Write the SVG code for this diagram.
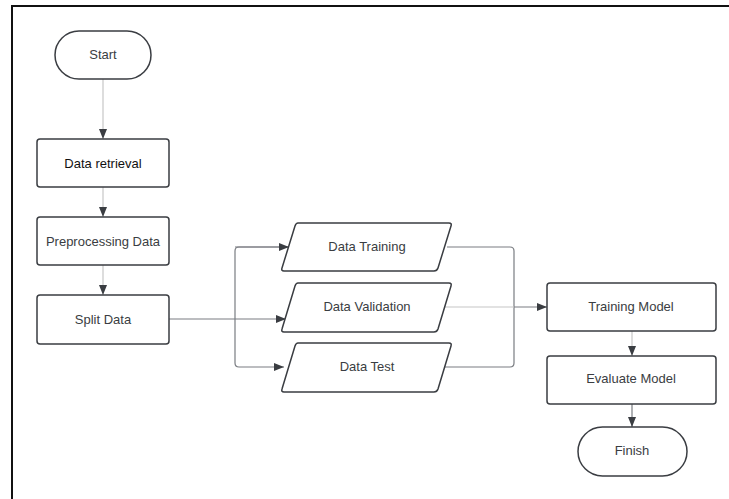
<svg xmlns="http://www.w3.org/2000/svg" width="729" height="499" viewBox="0 0 729 499">
  <style>
    .shape { fill: #ffffff; stroke: #3a3d42; stroke-width: 1.5; }
    .label { font-family: "Liberation Sans", Arial, sans-serif; font-size: 13px; fill: #3a3d42; text-anchor: middle; dominant-baseline: central; }
    .dark { fill: #111111; }
    .wire { fill: none; stroke-width: 1.2; }
    .light { stroke: #c6c6c6; }
    .mid { stroke: #7a7d82; }
  </style>
  <defs>
    <marker id="arrow" viewBox="0 0 10 10" refX="10" refY="5" markerWidth="7" markerHeight="7" markerUnits="userSpaceOnUse" orient="auto">
      <path d="M0,0 L10,5 L0,10 Z" fill="#3a3d42"/>
    </marker>
    <marker id="arrowLong" viewBox="0 0 10 8" refX="10" refY="4" markerWidth="10" markerHeight="8" markerUnits="userSpaceOnUse" orient="auto">
      <path d="M0,0 L10,4 L0,8 Z" fill="#3a3d42"/>
    </marker>
  </defs>

  <rect width="729" height="499" fill="#ffffff"/>
  <!-- page frame -->
  <path d="M12,499 L12,6 L729,6" fill="none" stroke="#111111" stroke-width="2"/>

  <g id="connectors">
    <line class="wire light" x1="103" y1="79" x2="103" y2="139" marker-end="url(#arrowLong)"/>
    <line class="wire light" x1="103" y1="187" x2="103" y2="217" marker-end="url(#arrowLong)"/>
    <line class="wire light" x1="103" y1="265" x2="103" y2="295" marker-end="url(#arrowLong)"/>
    <!-- split fan-out -->
    <line class="wire mid" x1="169" y1="319" x2="286" y2="319" marker-end="url(#arrowLong)"/>
    <path class="wire mid" d="M289,247 L239,247 Q235,247 235,251 L235,363 Q235,367 239,367 L284,367" marker-end="url(#arrowLong)"/>
    <line class="wire mid" x1="235" y1="247" x2="289" y2="247" marker-end="url(#arrowLong)"/>
    <!-- merge into training model -->
    <path class="wire mid" d="M447,247 L510,247 Q514,247 514,251 L514,363 Q514,367 510,367 L441,367"/>
    <line class="wire light" x1="445" y1="307" x2="514" y2="307"/>
    <line class="wire mid" x1="514" y1="307" x2="547" y2="307" marker-end="url(#arrowLong)"/>
    <line class="wire light" x1="632" y1="331" x2="632" y2="356" marker-end="url(#arrowLong)"/>
    <line class="wire mid" x1="632" y1="404" x2="632" y2="427" marker-end="url(#arrowLong)"/>
  </g>

  <g id="start">
    <rect class="shape" x="55" y="31" width="96" height="48" rx="24"/>
    <text class="label" x="103" y="54">Start</text>
  </g>
  <g id="data-retrieval">
    <rect class="shape" x="37" y="139" width="132" height="48" rx="3"/>
    <text class="label dark" x="103" y="163">Data retrieval</text>
  </g>
  <g id="preprocessing-data">
    <rect class="shape" x="37" y="217" width="132" height="48" rx="3"/>
    <text class="label" x="103" y="241">Preprocessing Data</text>
  </g>
  <g id="split-data">
    <rect class="shape" x="37" y="295" width="132" height="49" rx="3"/>
    <text class="label" x="103" y="319">Split Data</text>
  </g>
  <g id="data-training">
    <path class="shape" d="M298,223 L449,223 Q452,223 451,226 L438,268 Q437,271 434,271 L284,271 Q281,271 282,268 L295,226 Q296,223 298,223 Z"/>
    <text class="label" x="367" y="246">Data Training</text>
  </g>
  <g id="data-validation">
    <path class="shape" d="M298,283 L449,283 Q452,283 451,286 L438,329 Q437,332 434,332 L284,332 Q281,332 282,329 L295,286 Q296,283 298,283 Z"/>
    <text class="label" x="367" y="306">Data Validation</text>
  </g>
  <g id="data-test">
    <path class="shape" d="M298,343 L449,343 Q452,343 451,346 L438,389 Q437,392 434,392 L284,392 Q281,392 282,389 L295,346 Q296,343 298,343 Z"/>
    <text class="label" x="367" y="366">Data Test</text>
  </g>
  <g id="training-model">
    <rect class="shape" x="547" y="283" width="169" height="48" rx="3"/>
    <text class="label" x="631" y="306">Training Model</text>
  </g>
  <g id="evaluate-model">
    <rect class="shape" x="547" y="356" width="169" height="48" rx="3"/>
    <text class="label" x="631" y="378">Evaluate Model</text>
  </g>
  <g id="finish">
    <rect class="shape" x="578" y="427" width="109" height="49" rx="24.5"/>
    <text class="label" x="632" y="450">Finish</text>
  </g>
</svg>
